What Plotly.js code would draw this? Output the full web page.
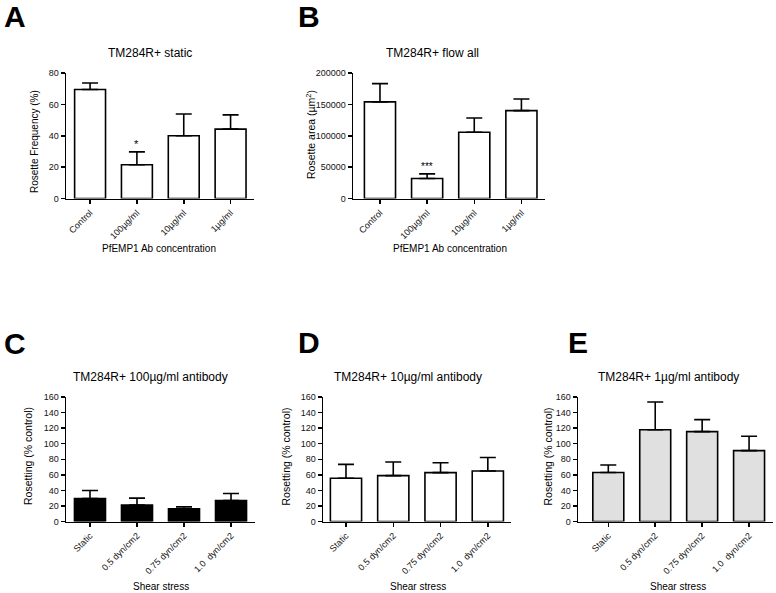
<!DOCTYPE html>
<html>
<head>
<meta charset="utf-8">
<script src="https://cdn.plot.ly/plotly-3.0.1.min.js"></script>
<style>html,body{margin:0;padding:0;background:#fff;}#chart{width:776px;height:593px;}</style>
</head>
<body>
<div id="chart"></div>
<script>
// ---- data ----
const catsAB = ["Control", "100µg/ml", "10µg/ml", "1µg/ml"];
const catsShear = ["Static", "0.5 dyn/cm2", "0.75 dyn/cm2", "1.0\u00a0 dyn/cm2"];

const freqA = [69.5, 21.5, 40.0, 44.2];
const semA  = [4.1, 8.2, 13.9, 9.1];

const areaB = [154000, 31800, 105500, 140000];
const semB  = [29000, 7500, 22900, 18600];

const rosC = [29.5, 21.0, 16.3, 27.0];
const semC = [10.3, 9.0, 2.5, 9.0];

const rosD = [55.6, 59.0, 62.8, 64.9];
const semD = [17.8, 17.4, 12.7, 17.4];

const rosE = [62.9, 118.0, 115.5, 91.1];
const semE = [9.8, 35.6, 15.4, 18.4];

const panelTitles = ["TM284R+ static", "TM284R+ flow all", "TM284R+ 100µg/ml antibody",
                     "TM284R+ 10µg/ml antibody", "TM284R+ 1µg/ml antibody"];
const panelLetters = ["A", "B", "C", "D", "E"];
const yTitles = ["Rosette Frequency (%)", "Rosette area (µm<sup>2</sup>)",
                 "Rosetting (% control)", "Rosetting (% control)", "Rosetting (% control)"];
const xTitles = ["PfEMP1 Ab concentration", "PfEMP1 Ab concentration",
                 "Shear stress", "Shear stress", "Shear stress"];

// ---- layout helpers ----
const W = 776, H = 593;
const fx = x => x / W;
const fy = y => 1 - y / H;
const FONT = "Liberation Sans, Arial, Helvetica, sans-serif";

const panels = [
  {cats: catsAB, y: freqA, e: semA, fill: "#ffffff", xd: [66, 254], yd: [73, 198.5], xr: [-0.514, 3.5], yr: [0, 80], dt: 20,
   title: [150, 53], letter: [15, 16.5], ytl: [34, 142], xtl: [159, 248]},
  {cats: catsAB, y: areaB, e: semB, fill: "#ffffff", xd: [353, 545], yd: [73, 198.5], xr: [-0.572, 3.5], yr: [0, 200000], dt: 50000,
   title: [432.5, 53], letter: [309, 16.5], ytl: [310, 135], xtl: [450, 248]},
  {cats: catsShear, y: rosC, e: semC, fill: "#000000", xd: [66, 255], yd: [397, 521.5], xr: [-0.51, 3.51], yr: [0, 160], dt: 20,
   title: [150.5, 376.5], letter: [15, 343.5], ytl: [28, 456], xtl: [161, 586]},
  {cats: catsShear, y: rosD, e: semD, fill: "#ffffff", xd: [323, 511], yd: [397, 521.5], xr: [-0.486, 3.49], yr: [0, 160], dt: 20,
   title: [407.5, 376.5], letter: [309, 342.5], ytl: [285, 456.5], xtl: [417.5, 586]},
  {cats: catsShear, y: rosE, e: semE, fill: "#e0e0e0", xd: [578, 773], yd: [397, 521.5], xr: [-0.646, 3.51], yr: [0, 160], dt: 20,
   title: [668.3, 376.5], letter: [578, 342.5], ytl: [547, 456.5], xtl: [678, 586]}
];

const traces = [];
const layout = {
  width: W, height: H,
  margin: {l: 0, r: 0, t: 0, b: 0},
  paper_bgcolor: "#ffffff",
  plot_bgcolor: "rgba(0,0,0,0)",
  showlegend: false,
  font: {family: FONT, color: "#000"},
  annotations: []
};

panels.forEach((p, i) => {
  const sfx = i === 0 ? "" : String(i + 1);
  traces.push({
    type: "bar",
    x: p.cats,
    y: p.y,
    width: 0.66,
    xaxis: "x" + sfx,
    yaxis: "y" + sfx,
    marker: {color: p.fill, line: {color: "#000", width: 1.6}},
    error_y: {type: "data", symmetric: false, array: p.e, arrayminus: p.e.map(() => 0),
              color: "#000", thickness: 1.6, width: 8},
    hoverinfo: "skip"
  });
  const common = {
    showline: true, linecolor: "#000", linewidth: 1.5,
    ticks: "outside", ticklen: 4, tickwidth: 1.5, tickcolor: "#000",
    showgrid: false, zeroline: false, fixedrange: true,
    tickfont: {family: FONT, size: 9, color: "#111"}
  };
  layout["xaxis" + sfx] = Object.assign({}, common, {
    domain: [fx(p.xd[0]), fx(p.xd[1])],
    anchor: "y" + sfx,
    type: "category",
    range: p.xr,
    tickangle: -45
  });
  layout["yaxis" + sfx] = Object.assign({}, common, {
    domain: [fy(p.yd[1]), fy(p.yd[0])],
    anchor: "x" + sfx,
    range: p.yr,
    dtick: p.dt,
    tick0: 0,
    tickformat: "d"
  });
  // panel letter
  layout.annotations.push({
    xref: "paper", yref: "paper", x: fx(p.letter[0]), y: fy(p.letter[1]),
    xanchor: "center", yanchor: "middle", showarrow: false,
    text: "<b>" + panelLetters[i] + "</b>",
    font: {family: FONT, size: 30, color: "#000"}
  });
  // panel title
  layout.annotations.push({
    xref: "paper", yref: "paper", x: fx(p.title[0]), y: fy(p.title[1]),
    xanchor: "center", yanchor: "middle", showarrow: false,
    text: panelTitles[i],
    font: {family: FONT, size: 12, color: "#000"}
  });
  // y axis title
  layout.annotations.push({
    xref: "paper", yref: "paper", x: fx(p.ytl[0]), y: fy(p.ytl[1]),
    xanchor: "center", yanchor: "middle", showarrow: false, textangle: -90,
    text: yTitles[i],
    font: {family: FONT, size: i === 0 ? 10 : 10.5, color: "#000"}
  });
  // x axis title
  layout.annotations.push({
    xref: "paper", yref: "paper", x: fx(p.xtl[0]), y: fy(p.xtl[1]),
    xanchor: "center", yanchor: "middle", showarrow: false,
    text: xTitles[i],
    font: {family: FONT, size: 10, color: "#000"}
  });
});

// significance marks
layout.annotations.push({
  xref: "x", yref: "y", x: catsAB[1], y: freqA[1] + semA[1],
  yanchor: "bottom", yshift: 0, showarrow: false, text: "*",
  font: {family: FONT, size: 11, color: "#000"}
});
layout.annotations.push({
  xref: "x2", yref: "y2", x: catsAB[1], y: areaB[1] + semB[1],
  yanchor: "bottom", yshift: 0, showarrow: false, text: "***",
  font: {family: FONT, size: 10, color: "#000"}
});

Plotly.newPlot("chart", traces, layout, {staticPlot: true, displayModeBar: false});
</script>
</body>
</html>
